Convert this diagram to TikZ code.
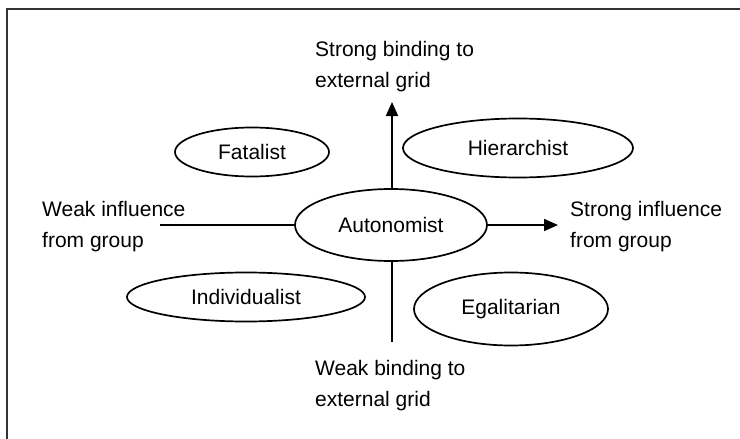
\documentclass[tikz,border=0pt]{standalone}
\usepackage{fontspec}
\setmainfont{Liberation Sans}
\usetikzlibrary{shapes.geometric,arrows.meta}
\begin{document}
\begin{tikzpicture}[x=1pt,y=-1pt,
  every node/.style={font=\fontsize{21}{31}\selectfont},
  culture/.style={ellipse,draw,line width=1.7pt,inner sep=0pt},
  axislabel/.style={anchor=base west,align=left,inner sep=0pt},
  axis/.style={line width=1.7pt},
  tip/.style={-{Triangle[length=14pt,width=12pt]}}]
\useasboundingbox (0,0) rectangle (740,439);
% frame (top and left edges)
\draw[line width=2pt,black!80] (7,439) -- (7,8.5) -- (740,8.5);

% cultures
\node[culture,minimum width=192pt,minimum height=72pt] (auto) at (391,225) {Autonomist};
\node[culture,minimum width=154pt,minimum height=49pt] (fat) at (252,152) {Fatalist};
\node[culture,minimum width=230pt,minimum height=59pt] (hier) at (518,148) {Hierarchist};
\node[culture,minimum width=238pt,minimum height=49pt] (ind) at (246,297) {Individualist};
\node[culture,minimum width=194pt,minimum height=73pt] (ega) at (511,309) {Egalitarian};

% axis labels (base = baseline of the last line)
\node[axislabel] (sgrid) at (315,87) {Strong binding to\\external grid};
\node[axislabel] (wgrid) at (315,406) {Weak binding to\\external grid};
\node[axislabel] (wgroup) at (42,247) {Weak influence\\from group};
\node[axislabel] (sgroup) at (570,247) {Strong influence\\from group};

% axes
\coordinate (up) at (392,102);
\coordinate (down) at (392,342);
\coordinate (left) at (160,225);
\coordinate (right) at (558,225);
\draw[axis,tip] (auto.north) ++(1,0) -- (up);
\draw[axis] (auto.south) ++(1,0) -- (down);
\draw[axis] (auto.west) -- (left);
\draw[axis,tip] (auto.east) -- (right);
\end{tikzpicture}
\end{document}
